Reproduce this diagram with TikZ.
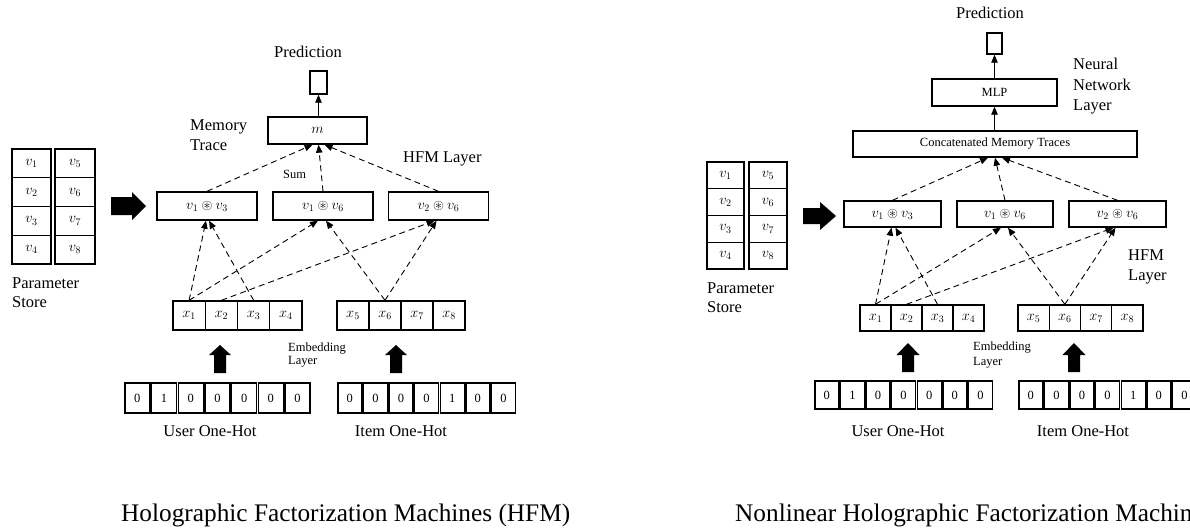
\documentclass[tikz,border=0pt]{standalone}
\usepackage{fontspec}
\setmainfont{Liberation Serif}
\usepackage{amssymb}
\usetikzlibrary{arrows.meta}

\begin{document}
\begin{tikzpicture}[x=1pt, y=-1pt,
  box/.style={draw, line width=1.4pt, inner sep=0pt, font=\fontsize{12.5}{14}\selectfont},
  mbox/.style={box, font=\fontsize{14}{16}\selectfont},
  lbl/.style={inner sep=0pt, font=\fontsize{16.5}{20}\selectfont, align=left},
  sml/.style={inner sep=0pt, font=\fontsize{12.5}{13}\selectfont, align=left},
  ttl/.style={inner sep=0pt, font=\fontsize{25.3}{28}\selectfont},
  dl/.style={line width=0.9pt, dash pattern=on 6pt off 4pt, -{Triangle[length=8pt,width=6.5pt]}},
  sl/.style={line width=0.9pt, -{Triangle[length=8pt,width=6.5pt]}}
]
\clip (0,0) rectangle (1190,531);

% ================= HFM =================
% parameter store
\foreach \i [evaluate=\i as \j using int(\i+4)] in {1,...,4} {
  \node[mbox, minimum width=39pt, minimum height=28.75pt] (Lv\i) at (31.5, {149+28.75*(\i-0.5)}) {$v_{\i}$};
  \node[mbox, minimum width=40pt, minimum height=28.75pt] (Lv\j) at (75, {149+28.75*(\i-0.5)}) {$v_{\j}$};
}
\node[lbl, anchor=north west] (Lps) at (12,277) {Parameter\\[-1pt]Store};
\fill (111,197) -- (132,197) -- (132,192) -- (146,206) -- (132,220) -- (132,215) -- (111,215) -- cycle;

% pairwise products
\node[mbox, minimum width=100pt, minimum height=28pt] (L13) at (207,206) {$v_1 \circledast v_3$};
\node[mbox, minimum width=100pt, minimum height=28pt] (L16) at (323,206) {$v_1 \circledast v_6$};
\node[mbox, minimum width=100pt, minimum height=28pt] (L26) at (438.5,206) {$v_2 \circledast v_6$};

% memory trace and prediction
\node[mbox, minimum width=99pt, minimum height=27pt] (Lm) at (317.5,130.5) {$m$};
\node[box, minimum width=17pt, minimum height=23pt] (Lp) at (318.5,82.5) {};
\node[lbl, anchor=base] (Lpt) at (308,57) {Prediction};
\node[lbl, anchor=north west] (Lmt) at (190,119) {Memory\\Trace};
\node[lbl, anchor=base west] (Lhl) at (403,162) {HFM Layer};
\node[sml, anchor=base west] (Lsum) at (283,178) {Sum};

% embeddings
\foreach \i in {1,...,4}
  \node[mbox, minimum width=32.25pt, minimum height=29pt] (Lx\i) at ({173+32.25*(\i-0.5)},315.5) {$x_{\i}$};
\foreach \i [evaluate=\i as \j using int(\i+4)] in {1,...,4}
  \node[mbox, minimum width=32pt, minimum height=29pt] (Lx\j) at ({337+32*(\i-0.5)},315.5) {$x_{\j}$};
\node[sml, anchor=north west] (Lel) at (288,342.5) {Embedding\\Layer};

% one-hot inputs
\foreach \b [count=\i] in {0,1,0,0,0,0,0}
  \node[box, minimum width=25pt, minimum height=30pt] (Lu\i) at ({124+26.7*(\i-0.5)},398) {\b};
\foreach \b [count=\i] in {0,0,0,0,1,0,0}
  \node[box, minimum width=24pt, minimum height=30pt] (Li\i) at ({337+25.6*(\i-0.5)},398) {\b};
\node[lbl, anchor=base] (Lut) at (210,436) {User One-Hot};
\node[lbl, anchor=base] (Lit) at (401,436) {Item One-Hot};
\fill (214,373) -- (214,355) -- (209,355) -- (220,345) -- (231,355) -- (226,355) -- (226,373) -- cycle;
\fill (390,373) -- (390,355) -- (385,355) -- (396,345) -- (407,355) -- (402,355) -- (402,373) -- cycle;

% connectors
\draw[dl] (Lx1.north) -- ([xshift=-1pt]L13.south);
\draw[dl] (Lx3.north) -- ([xshift=2pt]L13.south);
\draw[dl] (Lx1.north) -- ([xshift=-5pt]L16.south);
\draw[dl] (Lx6.north) -- ([xshift=3pt]L16.south);
\draw[dl] (Lx2.north) -- ([xshift=-4pt]L26.south);
\draw[dl] (Lx6.north) -- ([xshift=-2pt]L26.south);
\draw[dl] (L13.north) -- ([xshift=-5pt]Lm.south);
\draw[dl] (L16.north) -- ([xshift=1pt]Lm.south);
\draw[dl] (L26.north) -- ([xshift=7pt]Lm.south);
\draw[sl] (Lm.north -| Lp.south) -- (Lp.south);

\node[ttl, anchor=base west] (Lttl) at (121,521) {Holographic Factorization Machines (HFM)};

% ================= Nonlinear HFM =================
\foreach \i [evaluate=\i as \j using int(\i+4)] in {1,...,4} {
  \node[mbox, minimum width=37pt, minimum height=26.75pt] (Rv\i) at (725.5, {162+26.75*(\i-0.5)}) {$v_{\i}$};
  \node[mbox, minimum width=38pt, minimum height=26.75pt] (Rv\j) at (768, {162+26.75*(\i-0.5)}) {$v_{\j}$};
}
\node[lbl, anchor=north west] (Rps) at (707,282) {Parameter\\[-1pt]Store};
\fill (803,208) -- (820,208) -- (820,202) -- (836,216) -- (820,230) -- (820,224) -- (803,224) -- cycle;

\node[mbox, minimum width=97pt, minimum height=26pt] (R13) at (892.5,214) {$v_1 \circledast v_3$};
\node[mbox, minimum width=96pt, minimum height=26pt] (R16) at (1005,214) {$v_1 \circledast v_6$};
\node[mbox, minimum width=97pt, minimum height=26pt] (R26) at (1117.5,214) {$v_2 \circledast v_6$};

\node[box, minimum width=284pt, minimum height=26pt] (Rc) at (995,144) {Concatenated Memory Traces};
\node[box, minimum width=125pt, minimum height=27pt] (Rmlp) at (994.5,92.5) {MLP};
\node[box, minimum width=15pt, minimum height=21pt] (Rp) at (994.5,43.5) {};
\node[lbl, anchor=base] (Rpt) at (990,18) {Prediction};
\node[lbl, anchor=north west, font=\fontsize{16.5}{20.5}\selectfont] (Rnn) at (1073,58) {Neural\\Network\\Layer};
\node[lbl, anchor=north west] (Rhl) at (1128,249) {HFM\\Layer};

\foreach \i in {1,...,4}
  \node[mbox, minimum width=31pt, minimum height=26pt] (Rx\i) at ({860+31*(\i-0.5)},318) {$x_{\i}$};
\foreach \i [evaluate=\i as \j using int(\i+4)] in {1,...,4}
  \node[mbox, minimum width=31.25pt, minimum height=26pt] (Rx\j) at ({1018+31.25*(\i-0.5)},318) {$x_{\j}$};
\node[sml, anchor=north west, font=\fontsize{12.5}{15}\selectfont] (Rel) at (973,341.5) {Embedding\\Layer};

\foreach \b [count=\i] in {0,1,0,0,0,0,0}
  \node[box, minimum width=24pt, minimum height=28pt] (Ru\i) at ({814+25.6*(\i-0.5)},395) {\b};
\foreach \b [count=\i] in {0,0,0,0,1,0,0}
  \node[box, minimum width=24pt, minimum height=28pt] (Ri\i) at ({1018+25.6*(\i-0.5)},395) {\b};
\node[lbl, anchor=base] (Rut) at (898,436) {User One-Hot};
\node[lbl, anchor=base] (Rit) at (1083,436) {Item One-Hot};
\fill (902,372) -- (902,355) -- (896.5,355) -- (908,343) -- (919.5,355) -- (914,355) -- (914,372) -- cycle;
\fill (1068,372) -- (1068,355) -- (1062.5,355) -- (1074,343) -- (1085.5,355) -- (1080,355) -- (1080,372) -- cycle;

\draw[dl] (Rx1.north) -- ([xshift=-1pt]R13.south);
\draw[dl] (Rx3.north) -- ([xshift=3pt]R13.south);
\draw[dl] (Rx1.north) -- ([xshift=-4pt]R16.south);
\draw[dl] (Rx6.north) -- ([xshift=3pt]R16.south);
\draw[dl] (Rx2.north) -- ([xshift=-4pt]R26.south);
\draw[dl] (Rx6.north) -- ([xshift=-2pt]R26.south);
\draw[dl] (R13.north) -- ([xshift=-7pt]Rc.south);
\draw[dl] (R16.north) -- ([xshift=0pt]Rc.south);
\draw[dl] (R26.north) -- ([xshift=7pt]Rc.south);
\draw[sl] (Rc.north -| Rmlp.south) -- (Rmlp.south);
\draw[sl] (Rmlp.north) -- (Rp.south);

\node[ttl, anchor=base west] (Rttl) at (735,521) {Nonlinear Holographic Factorization Machines};
\end{tikzpicture}
\end{document}
